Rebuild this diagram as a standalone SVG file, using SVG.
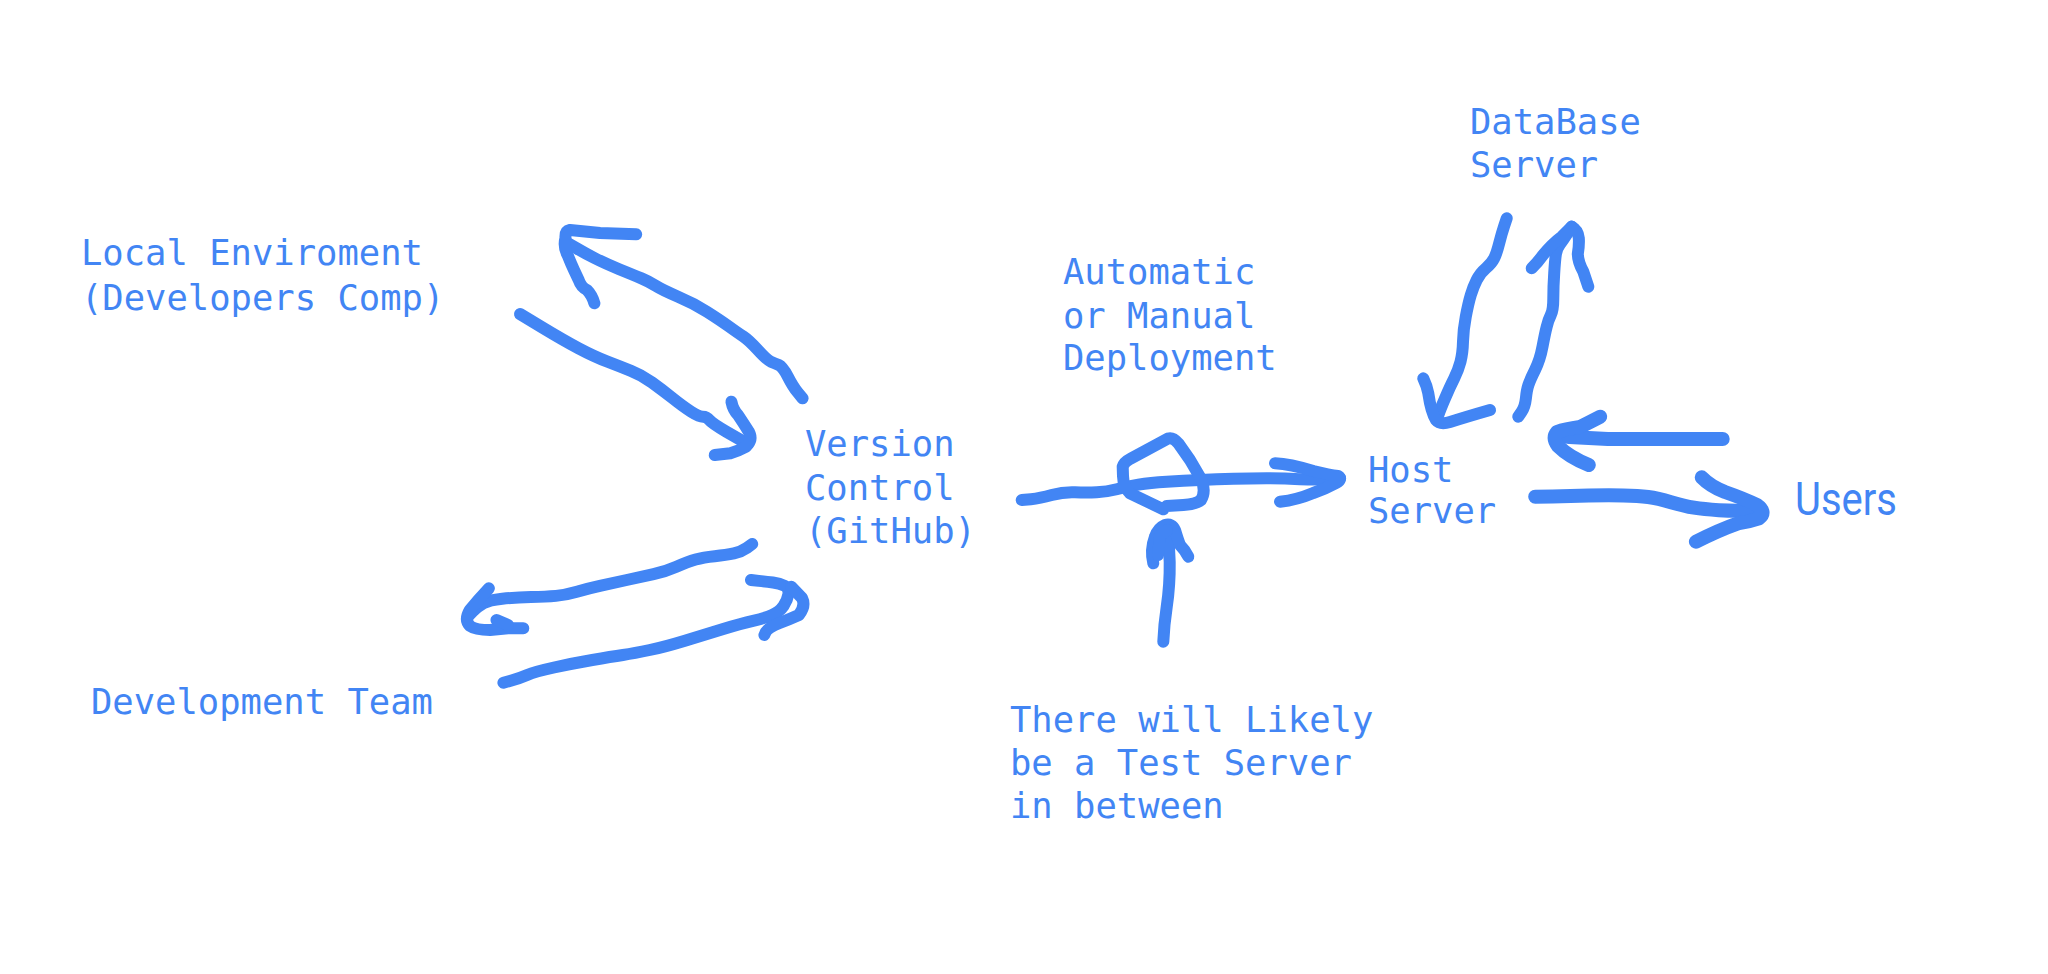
<svg xmlns="http://www.w3.org/2000/svg" width="2048" height="974" viewBox="0 0 2048 974">
<style>
.t{font-family:"DejaVu Sans Mono","Liberation Mono",monospace;font-size:35.5px;fill:#4285f4}
.u{font-family:Roboto,"Liberation Sans",sans-serif;font-size:46px;fill:#4285f4}
.s{fill:none;stroke:#4285f4;stroke-width:12;stroke-linecap:round;stroke-linejoin:round}
.w{stroke-width:14}
</style>
<rect width="2048" height="974" fill="#ffffff"/>
<g id="local-env">
<text class="t" x="81" y="265">Local Enviroment</text>
<text class="t" x="81" y="310">(Developers Comp)</text>
</g>
<g id="dev-team">
<text class="t" x="91" y="714">Development Team</text>
</g>
<g id="version-control">
<text class="t" x="805" y="456">Version</text>
<text class="t" x="805" y="500">Control</text>
<text class="t" x="805" y="543">(GitHub)</text>
</g>
<g id="deployment">
<text class="t" x="1063" y="284">Automatic</text>
<text class="t" x="1063" y="328">or Manual</text>
<text class="t" x="1063" y="370">Deployment</text>
</g>
<g id="test-server">
<text class="t" x="1010" y="732">There will Likely</text>
<text class="t" x="1010" y="775">be a Test Server</text>
<text class="t" x="1010" y="818">in between</text>
</g>
<g id="host-server">
<text class="t" x="1368" y="482">Host</text>
<text class="t" x="1368" y="523">Server</text>
</g>
<g id="database-server">
<text class="t" x="1470" y="134">DataBase</text>
<text class="t" x="1470" y="177">Server</text>
</g>
<g id="users">
<text class="u" x="1795" y="515" textLength="102" lengthAdjust="spacingAndGlyphs">Users</text>
</g>
<g id="connectors">
<!-- VC -> Local env -->
<path class="s" d="M802.6,398.3 L797.8,392.5 Q793,386.7 787.9,376.7 Q782.7,366.7 778.8,365 Q774.8,363.3 770.9,361.7 Q767,360 757.9,350 Q748.7,340 743.4,336.5 Q738,333 729,326.5 Q720,320 706.9,311.7 Q693.8,303.3 678.1,296.7 Q662.4,290 655.9,285.9 Q649.3,281.7 641.5,278.4 Q633.6,275 619.2,269.2 Q604.8,263.3 594.4,258 Q584,252.7 576.1,248 L568.2,243.3"/>
<path class="s" d="M636.2,234.3 L600,233 L570,230 Q565,231 565.5,238 Q563,246.7 568,256 Q570.9,263.3 574,270 L578.7,280 Q581,287 587,290 Q592,295 594.4,303.3"/>
<!-- Local env -> VC -->
<path class="s" d="M520,314 L541.5,327 Q563,340 578.7,348.4 Q594.4,356.7 607.5,361.7 Q620.5,366.7 631,370.9 Q641.5,375 652,382.5 Q662.4,390 672.9,398.4 Q683.3,406.7 691.2,411.7 Q699,416.7 702.9,416.7 Q706.8,416.7 709.4,420 Q712,423.3 726.4,431.7 L740.8,440"/>
<path class="s" d="M731.4,401.7 Q733,410 738,415 Q744,424 749,432 Q753,440 746,446.7 Q738,451 730.4,453.3 L714.7,455"/>
<!-- VC -> Dev team -->
<path class="s" d="M752.2,544 L746.9,547.9 Q741.5,551.7 733.9,553.4 Q726.2,555 714.7,556.2 Q703.2,557.3 695.6,559.5 Q687.9,561.7 676.4,566.7 Q664.9,571.7 653.5,574.2 Q642,576.7 626.7,580 Q611.4,583.3 599.9,585.8 Q588.4,588.3 576.9,591.7 Q565.4,595 555.9,595.9 Q546.3,596.7 531,597 Q515.7,597.3 502.3,598.7 Q488.9,600 483.2,603.4 Q477.4,606.7 472.6,611.7 L467.8,616.7"/>
<path class="s" d="M488.9,588.3 Q478,600 469.8,610 Q464,620 470,626 Q475.5,630 490,630 L508,628.3 L523.3,628.3"/>
<path class="s" d="M496.5,620 L508,625"/>
<!-- Dev team -> VC -->
<path class="s" d="M503.4,682.7 L511.5,680.5 Q519.5,678.3 527.2,675 Q534.8,671.7 554,667.5 Q573.1,663.3 592.3,660 Q611.4,656.7 622.9,655 Q634.3,653.3 649.7,650 Q665,646.7 684.1,640.9 Q703.2,635 722.4,629.2 Q741.5,623.3 753,620.8 Q764.4,618.3 772.1,615 Q779.7,611.7 783.6,605.9 Q787.4,600 788.4,594.2 Q789.3,588.3 784.5,585.8 Q779.7,583.3 773,582.5 Q766.3,581.7 758.7,580.9 L751,580"/>
<path class="s" d="M791.2,586.7 L802,598 Q806,606 798.9,615 Q790,619 779.7,623 Q766,628 764.4,635"/>
<!-- VC -> Host -->
<path class="s" d="M1021.7,500 L1030.9,499.2 Q1040,498.3 1051.7,495 Q1063.3,491.7 1075,492.2 Q1086.7,492.7 1096.7,492.2 Q1106.7,491.7 1116.7,489.2 Q1126.7,486.7 1138.4,484.7 Q1150,482.7 1166.7,481.7 Q1183.3,480.7 1200,480 Q1216.7,479.3 1233.4,478.8 Q1250,478.3 1266.7,478.3 Q1283.3,478.3 1300,479.2 Q1316.7,480 1328.4,479.2 L1340,478.3"/>
<path class="s" d="M1275,463.3 Q1290,464 1313.3,471 Q1330,475 1338,476 Q1343,479 1336,483 Q1325,489 1313.3,493 Q1296.7,500 1280,501.7"/>
<!-- loop -->
<path class="s" d="M1163.3,509.3 L1130,493.3 Q1123.3,487 1123,476 L1122.7,466.7 Q1124,462 1130,459 L1146.7,450 L1168,438.5 Q1173,437 1178.3,443.3 L1190,460 L1201.7,480 Q1206,492 1201,500 Q1196.7,504 1183.3,505 L1166.7,506"/>
<!-- test server up -->
<path class="s" d="M1163.3,641.7 Q1164,625 1166.7,607 Q1170,585 1169.7,562 L1168.3,533.3"/>
<path class="s" d="M1153.3,563.3 Q1150,550 1155,536.7 Q1158,528 1165,525 Q1172,523 1175,530 Q1178,540 1180,545 Q1185,550 1188.3,556.7"/>
<path class="s" d="M1158,555 L1160,536 L1167,530"/>
<!-- DB -> Host -->
<path class="s" d="M1506.7,218.3 L1504.2,225.8 Q1501.7,233.3 1499.2,243.3 Q1496.7,253.3 1494.2,258.3 Q1491.7,263.3 1485.9,268.3 Q1480,273.3 1476.7,280 Q1473.3,286.7 1470.8,295 Q1468.3,303.3 1465.8,316.7 Q1463.3,330 1463,341.7 Q1462.7,353.3 1460.5,361.7 Q1458.3,370 1454.2,378.4 Q1450,386.7 1445,398.4 Q1440,410 1438.4,415 L1436.7,420"/>
<path class="s" d="M1423.3,378.3 Q1427,386 1428.3,393.3 Q1431,412 1436,420 Q1440,425 1450,422 Q1466.7,416.7 1490,410"/>
<!-- Host -> DB -->
<path class="s" d="M1518.3,416.7 L1521.7,411.7 Q1525,406.7 1525.9,398.4 Q1526.7,390 1528.4,385 Q1530,380 1535,370 Q1540,360 1542.5,346.7 Q1545,333.3 1546.7,326.7 Q1548.3,320 1550.8,315 Q1553.3,310 1553.3,298.4 Q1553.3,286.7 1554.2,273.4 Q1555,260 1555.9,254.2 Q1556.7,248.3 1560,244.2 Q1563.3,240 1567.5,233.4 L1571.7,226.7"/>
<path class="s" d="M1531.7,268.3 Q1538,262 1543,255 Q1552,244 1561.7,236.7 L1571.7,226.7 Q1578,230 1578.8,238 Q1579.3,245 1577.8,254 Q1578,262 1583.3,271.7 L1588.3,286.7"/>
<!-- Users -> Host -->
<path class="s w" d="M1722.7,439 L1684.4,439 L1607.9,439 L1569.6,437 L1556,435"/>
<path class="s w" d="M1600.2,416.7 Q1588,423 1580,427 Q1565,429 1557,432 Q1552,438 1558,446 Q1569,457 1588.8,465"/>
<!-- Host -> Users -->
<path class="s w" d="M1535.2,496.7 L1552.4,496.4 Q1569.6,496 1588.8,495.5 Q1607.9,495 1623.2,495.4 Q1638.5,495.7 1648.1,497 Q1657.6,498.3 1671,502.2 Q1684.4,506 1694,507.7 Q1703.6,509.3 1718.9,510.2 Q1734.2,511 1747.6,510.5 L1761,510"/>
<path class="s w" d="M1701.7,477.3 Q1710,486 1725,492 Q1745,499 1757,505 Q1767,512 1759,518.3 Q1748,522 1738,523.3 Q1718.9,530 1695.9,541.7"/>
</g>
</svg>
